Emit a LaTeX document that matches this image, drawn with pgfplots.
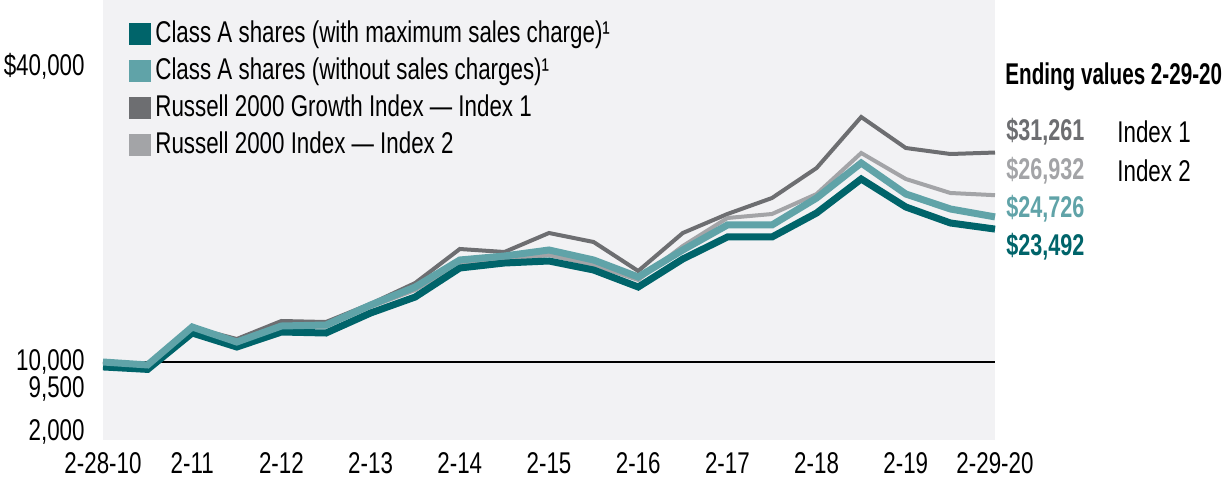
\documentclass[border=0pt]{standalone}
\usepackage{pgfplots}
\pgfplotsset{compat=1.18}
\usepackage{fontspec}
\setmainfont{Liberation Sans}[FakeStretch=0.745, BoldFeatures={FakeStretch=0.72}]

\definecolor{tealdark}{HTML}{00646A}
\definecolor{teallight}{HTML}{60A3A8}
\definecolor{greydark}{HTML}{6D6E71}
\definecolor{greylight}{HTML}{A3A4A7}
\definecolor{plotbg}{HTML}{F2F2F4}

\newcommand{\chartfont}{\fontsize{15}{17}\selectfont}

\begin{document}
\chartfont
\begin{tikzpicture}
\begin{axis}[
    scale only axis,
    width=446pt, height=220pt,
    xmin=0, xmax=20,
    ymin=2083, ymax=46743,
    axis background/.style={fill=plotbg},
    axis line style={draw=none},
    major tick length=0pt,
    tick style={draw=none},
    clip=false,
    xtick={0,2,...,20},
    xticklabels={2-28-10,2-11,2-12,2-13,2-14,2-15,2-16,2-17,2-18,2-19,2-29-20},
    ytick={2895,7250,10000,40000},
    yticklabels={{2,000},{9,500},{10,000},{\$40,000}},
    /pgf/number format/assume math mode=true,
    ticklabel style={font=\chartfont},
    yticklabel style={xshift=-4pt},
    xticklabel style={yshift=-1pt},
    legend style={at={(rel axis cs:0,1)}, anchor=north west,
        xshift=10pt, yshift=-6pt,
        draw=none, fill=none,
        font=\chartfont,
        row sep=1.5pt,
        legend cell align=left},
    legend image code/.code={\fill[#1,draw=none] (0pt,-5.5pt) rectangle (11pt,5.5pt);},
]
\draw[black, line width=1pt] (axis cs:0,10000) -- (axis cs:20,10000);

% Russell 2000 Growth Index
\addplot[greydark, line width=2pt, forget plot] coordinates {
(0,10000) (1,9700) (2,13500) (3,12335) (4,14162) (5,14060) (6,15900)
(7,18019) (8,21470) (9,21165) (10,23094) (11,22180) (12,19237) (13,23094)
(14,25022) (15,26646) (16,29691) (17,34868) (18,31721) (19,31112) (20,31261)};

% Russell 2000 Index
\addplot[greylight, line width=2pt, forget plot] coordinates {
(0,10000) (1,9700) (2,13400) (3,12100) (4,13500) (5,13600) (6,15600)
(7,17308) (8,20049) (9,20353) (10,20861) (11,19846) (12,18323) (13,21774)
(14,24616) (15,25022) (16,27052) (17,31214) (18,28575) (19,27154) (20,26932)};

% Class A shares (with maximum sales charge)
\addplot[tealdark, line width=3.5pt, forget plot] coordinates {
(0,9500) (1,9250) (2,12944) (3,11523) (4,13045) (5,12944) (6,14974)
(7,16598) (8,19541) (9,20049) (10,20252) (11,19338) (12,17613) (13,20455)
(14,22688) (15,22688) (16,25124) (17,28575) (18,25733) (19,24109) (20,23492)};

% Class A shares (without sales charges)
\addplot[teallight, line width=3.5pt, forget plot] coordinates {
(0,10000) (1,9700) (2,13553) (3,12030) (4,13654) (5,13756) (6,15786)
(7,17613) (8,20353) (9,20759) (10,21368) (11,20353) (12,18628) (13,21368)
(14,23906) (15,23906) (16,26646) (17,30199) (18,27052) (19,25530) (20,24726)};

\addlegendimage{tealdark}
\addlegendentry{Class A shares (with maximum sales charge)¹}
\addlegendimage{teallight}
\addlegendentry{Class A shares (without sales charges)¹}
\addlegendimage{greydark}
\addlegendentry{Russell 2000 Growth Index — Index 1}
\addlegendimage{greylight}
\addlegendentry{Russell 2000 Index — Index 2}

\begin{scope}[every node/.style={anchor=west, inner sep=0pt, font=\chartfont}]
\node[font=\chartfont\bfseries] at ([xshift=5pt]rel axis cs:1,0.825) {\scalebox{0.955}[1]{Ending values 2-29-20}};
\node[text=greydark, font=\chartfont\bfseries] at ([xshift=5.5pt]rel axis cs:1,0.70) {\$31,261};
\node at ([xshift=61pt]rel axis cs:1,0.70) {Index 1};
\node[text=greylight, font=\chartfont\bfseries] at ([xshift=5.5pt]rel axis cs:1,0.611) {\$26,932};
\node at ([xshift=61pt]rel axis cs:1,0.611) {Index 2};
\node[text=teallight, font=\chartfont\bfseries] at ([xshift=5.5pt]rel axis cs:1,0.525) {\$24,726};
\node[text=tealdark, font=\chartfont\bfseries] at ([xshift=5.5pt]rel axis cs:1,0.439) {\$23,492};
\end{scope}
\end{axis}
\pgfresetboundingbox
\path (-51.5pt,-21.5pt) rectangle (563.5pt,220pt);
\end{tikzpicture}
\end{document}
